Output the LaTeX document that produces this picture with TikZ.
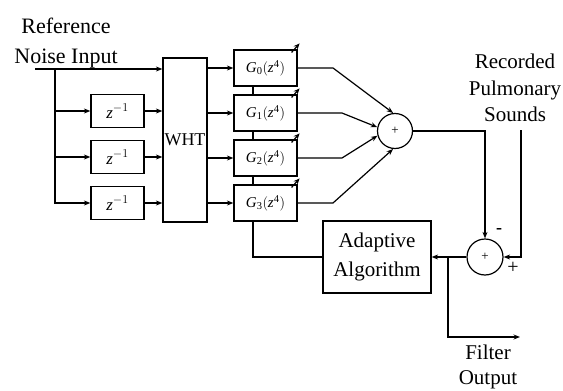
\documentclass[tikz,border=0pt]{standalone}
\usepackage{fontspec}
\setmainfont{Liberation Serif}
\usetikzlibrary{arrows.meta}
\begin{document}
\begin{tikzpicture}[x=1pt,y=-1pt,
  wire/.style={line width=1.2pt},
  tip/.style={-{Stealth[length=6.5pt,width=5pt]}},
  stip/.style={-{Stealth[length=6pt,width=5pt]}},
  blk/.style={draw,line width=1.2pt,inner sep=0pt,fill=white},
  zbox/.style={blk,minimum width=53pt,minimum height=33pt,font=\fontsize{17}{17}\selectfont},
  gbox/.style={blk,minimum width=63pt,minimum height=36pt,font=\fontsize{15}{15}\selectfont},
  big/.style={font=\fontsize{21}{27}\selectfont,align=center,inner sep=0pt},
  sumc/.style={draw,circle,line width=1.2pt,minimum size=35pt,inner sep=0pt,font=\fontsize{13}{13}\selectfont}
]
\useasboundingbox (0,0) rectangle (563,391);

% labels
\node[big,font=\fontsize{22}{30}\selectfont] (ref) at (66,43) {Reference\\Noise Input};
\node[big,font=\fontsize{21}{26.5}\selectfont] (rec) at (515,88) {Recorded\\Pulmonary\\Sounds};
\node[big,font=\fontsize{21}{25}\selectfont] (fout) at (488,367) {Filter\\Output};

% blocks
\node[zbox] (z1) at (117.5,111) {\textit{z}$^{-1}$};
\node[zbox] (z2) at (117.5,157) {\textit{z}$^{-1}$};
\node[zbox] (z3) at (117.5,203) {\textit{z}$^{-1}$};
\node[blk,minimum width=44pt,minimum height=164pt,font=\fontsize{18}{18}\selectfont] (wht) at (185,140) {WHT};
\node[gbox] (g0) at (265.5,68) {\textit{G}\textsubscript{0}$\bigl($\textit{z}\textsuperscript{4}$\bigr)$};
\node[gbox] (g1) at (265.5,113) {\textit{G}\textsubscript{1}$\bigl($\textit{z}\textsuperscript{4}$\bigr)$};
\node[gbox] (g2) at (265.5,158) {\textit{G}\textsubscript{2}$\bigl($\textit{z}\textsuperscript{4}$\bigr)$};
\node[gbox] (g3) at (265.5,203) {\textit{G}\textsubscript{3}$\bigl($\textit{z}\textsuperscript{4}$\bigr)$};
\node[sumc] (s1) at (395,131) {+};
\node[sumc,minimum size=36pt] (s2) at (485,257) {+};
\node[blk,minimum width=108pt,minimum height=72pt,font=\fontsize{21}{29}\selectfont,align=center] (adapt) at (377,257) {Adaptive\\Algorithm};

% coordinates
\coordinate (in) at (35,69);
\coordinate (sp) at (55,69);
\coordinate (bus) at (253,257);
\coordinate (recin) at (521,130);
\coordinate (br) at (448,257);
\coordinate (fo) at (520,337);

% input and delay line
\draw[wire,tip] (in) -- (in -| wht.west);
\draw[wire,tip] (sp) |- (z1.west);
\draw[wire,tip] (sp) |- (z2.west);
\draw[wire,tip] (sp) |- (z3.west);
\draw[wire,tip] (z1.east) -- (z1.east -| wht.west);
\draw[wire,tip] (z2.east) -- (z2.east -| wht.west);
\draw[wire,tip] (z3.east) -- (z3.east -| wht.west);

% WHT to filters
\draw[wire,tip] (wht.east |- g0.west) -- (g0.west);
\draw[wire,tip] (wht.east |- g1.west) -- (g1.west);
\draw[wire,tip] (wht.east |- g2.west) -- (g2.west);
\draw[wire,tip] (wht.east |- g3.west) -- (g3.west);

% adjustable-filter arrows
\foreach \g in {g0,g1,g2,g3}
  \draw[wire,stip] ([xshift=-6pt,yshift=-3pt]\g.north east) -- ++(8,-9);

% filter outputs to summer
\draw[wire,tip] (g0.east) -- (333,68) -- (s1.96);
\draw[wire,tip] (g1.east) -- (342,113) -- (s1.168);
\draw[wire,tip] (g2.east) -- (342,158) -- (s1.195);
\draw[wire,tip] (g3.east) -- (333,203) -- (s1.264);

% adaptation bus
\draw[wire] (g0.south -| bus) -- (g1.north -| bus);
\draw[wire] (g1.south -| bus) -- (g2.north -| bus);
\draw[wire] (g2.south -| bus) -- (g3.north -| bus);
\draw[wire] (adapt.west) -| (g3.south -| bus);

% error path
\draw[wire,tip] (s1.east) -| (s2.north);
\draw[wire,tip] (recin) |- (s2.east);
\draw[wire,tip] (s2.west) -- (adapt.east);
\draw[wire,tip] (br) |- (fo);

% signs
\node[font=\fontsize{18}{18}\selectfont\bfseries,inner sep=0pt] at (499,231) {-};
\node[font=\fontsize{20}{20}\selectfont,inner sep=0pt] at (513,268) {+};
\end{tikzpicture}
\end{document}
